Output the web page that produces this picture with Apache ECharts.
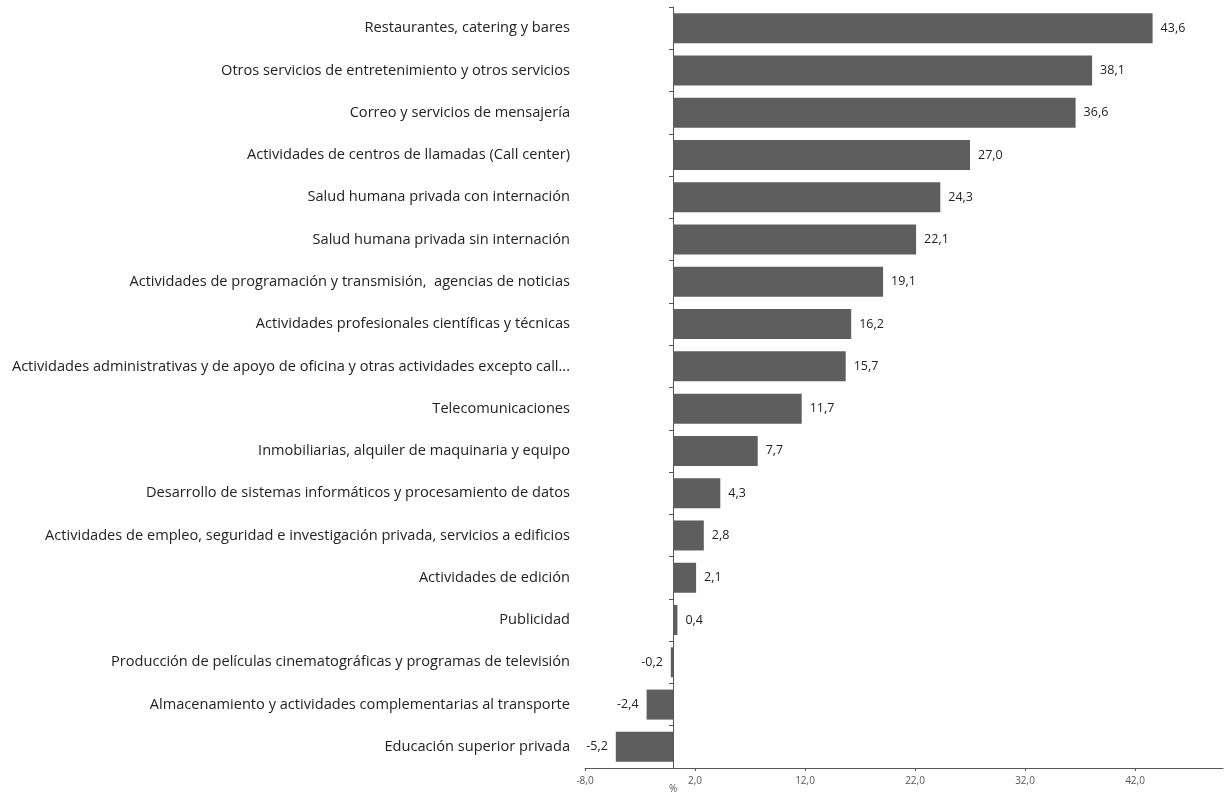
<!DOCTYPE html>
<html>
<head>
<meta charset="utf-8">
<script src="https://cdn.jsdelivr.net/npm/echarts@6/dist/echarts.min.js"></script>
<style>html,body{margin:0;padding:0;background:#fff;}#c{width:1231px;height:799px;}</style>
</head>
<body>
<div id="c"></div>
<script>
const categories = [
  "Restaurantes, catering y bares",
  "Otros servicios de entretenimiento y otros servicios",
  "Correo y servicios de mensajería",
  "Actividades de centros de llamadas (Call center)",
  "Salud humana privada con internación",
  "Salud humana privada sin internación",
  "Actividades de programación y transmisión,  agencias de noticias",
  "Actividades profesionales científicas y técnicas",
  "Actividades administrativas y de apoyo de oficina y otras actividades excepto call...",
  "Telecomunicaciones",
  "Inmobiliarias, alquiler de maquinaria y equipo",
  "Desarrollo de sistemas informáticos y procesamiento de datos",
  "Actividades de empleo, seguridad e investigación privada, servicios a edificios",
  "Actividades de edición",
  "Publicidad",
  "Producción de películas cinematográficas y programas de televisión",
  "Almacenamiento y actividades complementarias al transporte",
  "Educación superior privada"
];
const values = [43.6, 38.1, 36.6, 27.0, 24.3, 22.1, 19.1, 16.2, 15.7, 11.7, 7.7, 4.3, 2.8, 2.1, 0.4, -0.2, -2.4, -5.2];
const axisMin = -8, axisMax = 50, axisStep = 10;
const axisUnit = "%";

const fmt = v => v.toFixed(1).replace('.', ',');
const FONT = '"Open Sans", "Noto Sans", sans-serif';

const chart = echarts.init(document.getElementById('c'), null, {renderer: 'canvas'});
chart.setOption({
  animation: false,
  backgroundColor: '#ffffff',
  grid: {left: 585, right: 8, top: 7, bottom: 31, containLabel: false},
  xAxis: {
    type: 'value', min: axisMin, max: axisMax, interval: axisStep,
    splitLine: {show: false},
    axisLine: {show: true, lineStyle: {color: '#555', width: 1}},
    axisTick: {show: true, length: 3, lineStyle: {color: '#555'}},
    axisLabel: {
      color: '#555', fontSize: 10, fontFamily: FONT, margin: 8,
      showMaxLabel: false,
      formatter: v => fmt(v)
    }
  },
  yAxis: {
    type: 'category', data: categories, inverse: true,
    axisLine: {show: true, onZero: true, lineStyle: {color: '#555', width: 1}},
    axisTick: {show: true, length: 4, lineStyle: {color: '#555'}},
    axisLabel: {color: '#222', fontSize: 14.6, fontFamily: FONT, margin: 15}
  },
  graphic: [{
    type: 'text', left: 669, top: 784,
    style: {text: axisUnit, fill: '#555', font: '10px ' + FONT}
  }],
  series: [{
    type: 'bar',
    barCategoryGap: '29%',
    itemStyle: {color: '#5e5e5e'},
    data: values.map(v => ({
      value: v,
      label: {position: v < 0 ? 'left' : 'right'}
    })),
    label: {
      show: true, distance: 8, color: '#222', fontSize: 12.5, fontFamily: FONT,
      formatter: p => fmt(p.value)
    }
  }]
});
</script>
</body>
</html>
